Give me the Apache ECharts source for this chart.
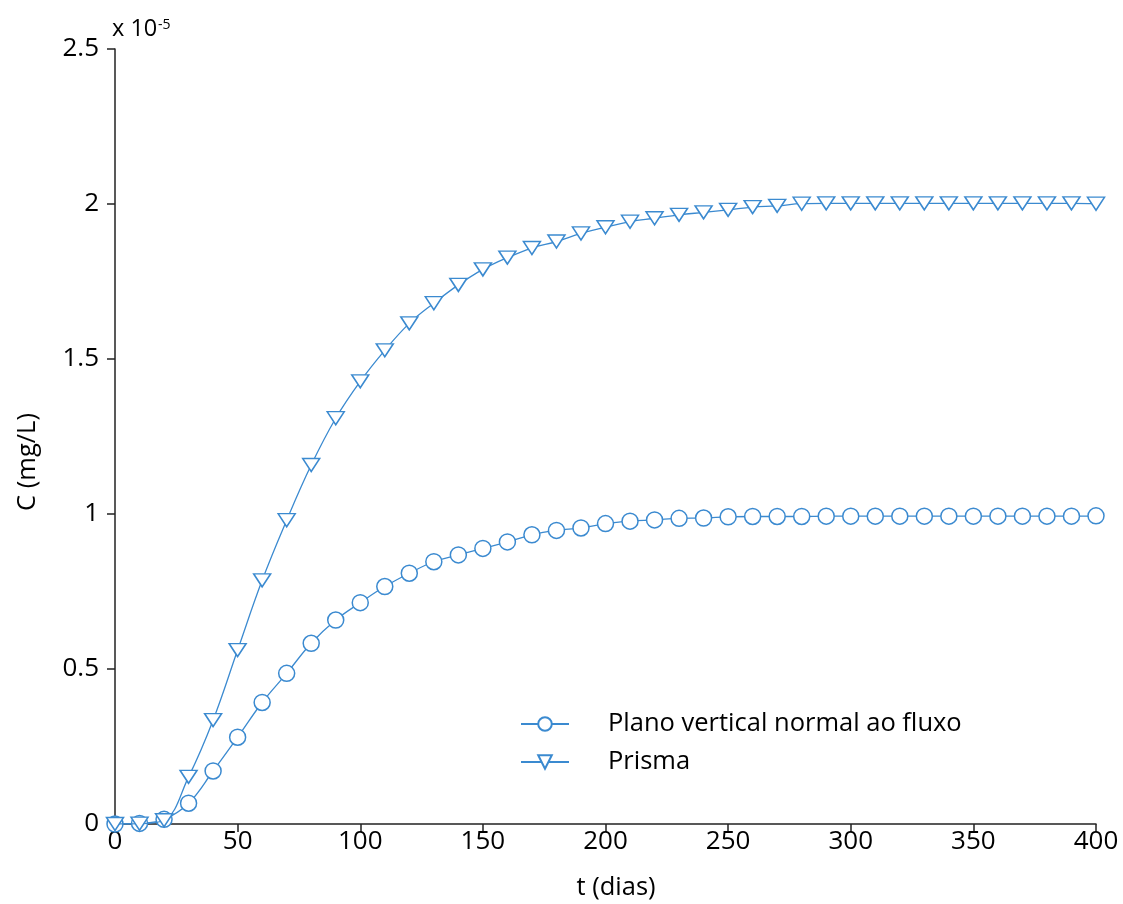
<!DOCTYPE html>
<html>
<head>
<meta charset="utf-8">
<script src="https://cdn.jsdelivr.net/npm/echarts@6/dist/echarts.min.js"></script>
<style>
html,body{margin:0;padding:0;background:#fff;}
#chart{width:1123px;height:904px;}
</style>
</head>
<body>
<div id="chart"></div>
<script>
// time (dias)
var tDias = [0,10,20,30,40,50,60,70,80,90,100,110,120,130,140,150,160,170,180,190,200,
  210,220,230,240,250,260,270,280,290,300,310,320,330,340,350,360,370,380,390,400];
// C (mg/L) x 1e-5 : Plano vertical normal ao fluxo
var planoVals = [0,0.002,0.015,0.067,0.171,0.280,0.392,0.486,0.583,0.658,0.714,0.766,0.809,0.846,0.868,0.889,0.910,0.933,0.947,0.955,0.969,
  0.977,0.981,0.986,0.987,0.991,0.992,0.992,0.992,0.993,0.993,0.993,0.993,0.993,0.993,0.993,0.993,0.993,0.993,0.993,0.994];
// C (mg/L) x 1e-5 : Prisma
var prismaVals = [0,0.001,0.012,0.152,0.335,0.561,0.786,0.980,1.158,1.309,1.428,1.528,1.615,1.680,1.739,1.789,1.827,1.858,1.879,1.905,1.925,
  1.943,1.954,1.965,1.973,1.981,1.990,1.994,2.001,2.002,2.002,2.002,2.002,2.002,2.002,2.002,2.002,2.002,2.002,2.002,2.001];
var seriesNames = ['Plano vertical normal ao fluxo', 'Prisma'];
var xTicks = {min:0, max:400, interval:50};
var yTicks = {min:0, max:2.5, interval:0.5};

var FONT = 'Open Sans';
var BLUE = '#3b8ad0';
function pairs(xs, ys){ return xs.map(function(x,i){ return [x, ys[i]]; }); }

var chart = echarts.init(document.getElementById('chart'), null, {renderer:'canvas'});
chart.setOption({
  backgroundColor:'#fff',
  animation:false,
  textStyle:{fontFamily:FONT},
  grid:{left:115, right:27, top:49, bottom:80, containLabel:false},
  xAxis:{
    type:'value', min:xTicks.min, max:xTicks.max, interval:xTicks.interval,
    axisLine:{show:true, onZero:false, lineStyle:{color:'#222', width:1.5}},
    axisTick:{show:true, inside:false, length:8, lineStyle:{color:'#222', width:1.5}},
    axisLabel:{color:'#000', fontSize:26, fontFamily:FONT, margin:5},
    splitLine:{show:false}
  },
  yAxis:{
    type:'value', min:yTicks.min, max:yTicks.max, interval:yTicks.interval,
    axisLine:{show:true, onZero:false, lineStyle:{color:'#222', width:1.5}},
    axisTick:{show:true, inside:false, length:8, lineStyle:{color:'#222', width:1.5}},
    axisLabel:{color:'#000', fontSize:26, fontFamily:FONT, margin:16},
    splitLine:{show:false}
  },
  legend:{
    orient:'vertical', left:520, top:711, itemGap:12, padding:0,
    itemWidth:48, itemHeight:17,
    textStyle:{color:'#000', fontSize:25.5, fontFamily:FONT, padding:[0,0,0,34]},
    data:seriesNames
  },
  graphic:[
    {type:'text', left:112, top:17, style:{text:'x 10', fontSize:23.5, fontFamily:FONT, fill:'#000'}},
    {type:'text', left:158, top:18, style:{text:'-5', fontSize:14, fontFamily:FONT, fill:'#000'}},
    {type:'text', x:28, y:462, rotation:Math.PI/2, style:{text:'C (mg/L)', fontSize:25.5, fontFamily:FONT, fill:'#000', align:'center', verticalAlign:'middle'}},
    {type:'text', x:616, y:888, style:{text:'t (dias)', fontSize:25.5, fontFamily:FONT, fill:'#000', align:'center', verticalAlign:'middle'}}
  ],
  series:[
    {
      name:seriesNames[0], type:'line', data:pairs(tDias, planoVals),
      smooth:0.4,
      symbol:'circle', symbolSize:16, showAllSymbol:true,
      lineStyle:{color:BLUE, width:1.3},
      itemStyle:{color:'#fff', borderColor:BLUE, borderWidth:1.5},
      z:2
    },
    {
      name:seriesNames[1], type:'line', data:pairs(tDias, prismaVals),
      smooth:0.4,
      symbol:'triangle', symbolRotate:180, symbolSize:[17,13], showAllSymbol:true,
      lineStyle:{color:BLUE, width:1.3},
      itemStyle:{color:'#fff', borderColor:BLUE, borderWidth:1.5},
      z:3
    }
  ]
});
</script>
</body>
</html>
